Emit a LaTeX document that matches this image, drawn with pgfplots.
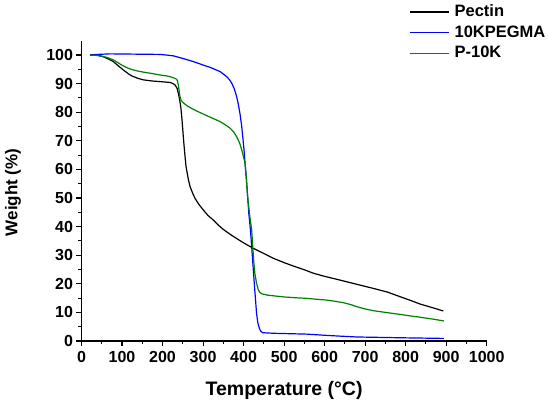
\documentclass[border=0pt]{standalone}
\usepackage{fontspec}
\setmainfont{Liberation Sans}
\usepackage{pgfplots}
\pgfplotsset{compat=1.18}
\definecolor{pgreen}{RGB}{0,128,0}
\definecolor{pblue}{RGB}{0,0,255}
\begin{document}
\begin{tikzpicture}
\begin{axis}[
  at={(0pt,0pt)}, anchor=south west,
  width=405.2pt, height=300.3pt, scale only axis,
  xmin=0, xmax=1000, ymin=0, ymax=105,
  axis x line*=bottom, axis y line*=left,
  axis line style={line width=1.1pt},
  tick align=outside,
  major tick length=5pt, minor tick length=3pt,
  tick style={line width=1.1pt, black},
  xtick={0,100,...,1000}, ytick={0,10,...,100},
  minor x tick num=1, minor y tick num=1,
  /pgf/number format/assume math mode=true,
  /pgf/number format/1000 sep={},
  ticklabel style={font=\bfseries\fontsize{16}{16}\selectfont},
  xticklabel style={yshift=-2pt},
  xlabel={Temperature (°C)}, ylabel={Weight (\%)},
  xlabel style={at={(axis description cs:0.5,-0.18)}, anchor=base, font=\bfseries\fontsize{19.5}{19.5}\selectfont},
  ylabel style={at={(axis description cs:-0.158,0.495)}, anchor=base, font=\bfseries\fontsize{17}{17}\selectfont},
  legend style={draw=none, fill=none, at={(axis description cs:0.809,1.122)}, anchor=north west, inner sep=0pt,
    font=\bfseries\fontsize{16.5}{16.5}\selectfont, row sep=5.3pt, column sep=5pt,
    nodes={inner sep=0pt, text height=12pt, text depth=3.5pt}},
  legend cell align=left,
  legend image code/.code={\draw[#1, line width=1.1pt] (0pt,0pt) -- (39pt,0pt);},
]
\addplot[black, line width=1.2pt] coordinates {
(21,100) (40,99.9) (54,99.4) (65,98.7) (78.6,97.7) (90,96.3) (103,94.8) (115,93.5) (124,92.7) (140,91.8) (153,91.3) (175,90.9) (194,90.7) (210,90.5) (218.5,90.4) (226,90.0) (231,89.5) (236,88.3) (239,86.6) (242,84.5) (245,81.9) (248,77.5) (250,73.8) (253,68.5) (255.6,64.4) (258,61) (261,58.6) (264,56.3) (268,54) (274,51.8) (280,49.9) (290,47.7) (300.8,45.8) (312,43.9) (325.4,42.3) (337,40.6) (350,39) (370,37) (391,35.1) (410,33.5) (424,32.4) (450,30.6) (473.6,28.9) (500,27.4) (523,26.2) (550,24.9) (572,23.7) (600,22.6) (638,21.3) (680,19.8) (720,18.4) (755,17.1) (786,15.5) (810,14.3) (836,12.9) (865,11.7) (893,10.5)
};
\addlegendentry{Pectin}
\addplot[pblue, line width=1.2pt] coordinates {
(21,100) (40,100.2) (70,100.4) (130,100.3) (194,100.2) (215,99.9) (226.7,99.7) (250,98.8) (276,97.7) (300,96.5) (317,95.7) (342,94.2) (358.5,92.4) (365,91.4) (371,90.1) (377,88.2) (383,85.4) (387,82.8) (391,79.6) (395,75.5) (398,71.4) (401,67) (403.7,62.1) (407,56.5) (410,50.5) (413,44.5) (417,38.8) (420,33) (423,27) (427,19) (432,9.7) (435,6.5) (439,4.4) (443,3.3) (447,2.9) (460,2.8) (473.6,2.7) (500,2.6) (556,2.4) (600,2.0) (638,1.7) (680,1.4) (720.5,1.3) (800,1.1) (894.6,0.9)
};
\addlegendentry{10KPEGMA}
\addplot[pgreen, line width=1.2pt] coordinates {
(21,100) (40,99.8) (62,99.2) (78.6,98.3) (90,97.3) (99,96.5) (110,95.7) (120,95.1) (135,94.5) (153,94) (175,93.5) (194,93) (210,92.7) (218.5,92.4) (228,92) (235,91.5) (237,90.8) (239,89.5) (241,87.5) (243,85.4) (246,84.1) (251,83.3) (262,82.1) (276,81) (292,79.9) (309,78.8) (325,77.8) (342,76.7) (355,75.6) (366.7,74.4) (375,73.2) (383,71.4) (390,69.3) (395.5,66.8) (400,64.3) (403.7,62.1) (407,56.5) (410,50.5) (415,44) (420,38.8) (425,28) (428,23.5) (432,20.2) (436,18) (440,17) (445,16.5) (460,16.0) (473.6,15.8) (500,15.4) (530,15.1) (556,14.9) (580,14.6) (605,14.3) (625,13.9) (646,13.4) (665,12.7) (679.5,12.0) (700,11.2) (720.5,10.6) (750,10.0) (786,9.3) (810,8.8) (836,8.3) (865,7.7) (894.6,7.0)
};
\addlegendentry{P-10K}
\end{axis}
\path (-81.5pt,-62pt) rectangle (468.5pt,341pt);
\end{tikzpicture}
\end{document}
